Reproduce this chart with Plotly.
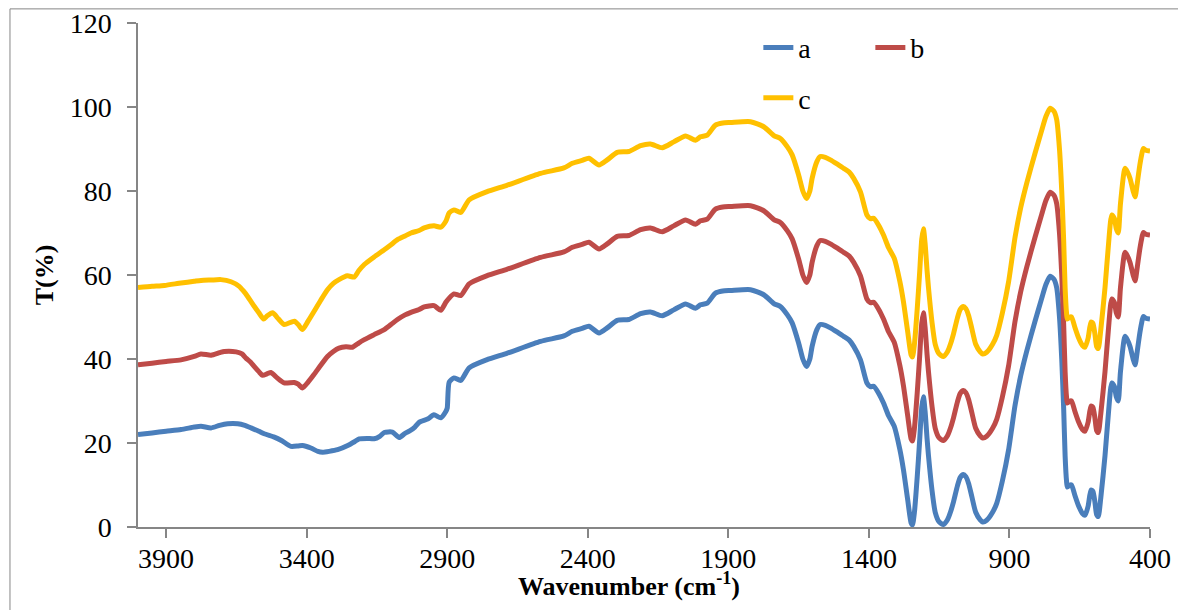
import plotly.graph_objects as go

# ---- data (wavenumber in cm^-1, transmittance in %) ----
wn_a_left = [4000, 3950, 3900, 3847, 3800, 3776, 3740, 3710, 3681, 3645,
             3620, 3598, 3570, 3551, 3515, 3490, 3456, 3430, 3415, 3385,
             3360, 3343, 3320, 3290, 3254, 3230, 3213, 3185, 3160, 3140,
             3124, 3095, 3071, 3050, 3035, 3015, 3000, 2970, 2947, 2923,
             2905, 2900, 2893, 2876, 2852]
t_a_left = [22.0, 22.4, 22.8, 23.2, 23.8, 24.0, 23.6, 24.2, 24.6, 24.6,
            24.2, 23.6, 22.8, 22.2, 21.4, 20.6, 19.2, 19.3, 19.4, 18.8,
            18.0, 17.8, 18.0, 18.4, 19.4, 20.3, 21.0, 21.1, 21.0, 21.6,
            22.5, 22.6, 21.3, 22.3, 22.8, 23.8, 24.9, 25.7, 26.7, 26.0,
            27.5, 28.3, 34.5, 35.5, 34.9]

wn_b_left = [4000, 3950, 3900, 3847, 3800, 3776, 3740, 3710, 3693, 3651,
             3630, 3616, 3600, 3586, 3570, 3557, 3540, 3527, 3505, 3480,
             3444, 3430, 3415, 3395, 3374, 3350, 3326, 3305, 3285, 3260,
             3237, 3215, 3195, 3160, 3124, 3100, 3077, 3050, 3029, 3000,
             2982, 2947, 2923, 2905, 2893, 2876, 2852]
t_b_left = [38.6, 39.0, 39.4, 39.8, 40.6, 41.2, 40.9, 41.5, 41.8, 41.7,
            41.2, 40.2, 39.3, 38.2, 37.0, 36.1, 36.5, 36.8, 35.5, 34.3,
            34.4, 34.0, 33.1, 34.5, 36.3, 38.5, 40.6, 41.8, 42.6, 42.9,
            42.8, 43.8, 44.6, 45.8, 47.0, 48.2, 49.4, 50.5, 51.1, 51.8,
            52.4, 52.7, 51.6, 53.5, 54.5, 55.5, 55.1]

wn_c_left = [4000, 3950, 3906, 3847, 3800, 3776, 3740, 3705, 3669, 3640,
             3625, 3610, 3586, 3570, 3553, 3540, 3521, 3500, 3480, 3444,
             3430, 3415, 3395, 3374, 3350, 3326, 3305, 3285, 3255, 3231,
             3215, 3195, 3160, 3124, 3100, 3077, 3050, 3029, 3000, 2982,
             2947, 2923, 2905, 2893, 2876, 2852]
t_c_left = [57.0, 57.3, 57.5, 58.1, 58.5, 58.7, 58.8, 58.9, 58.4, 57.3,
            56.2, 54.9, 52.5, 51.0, 49.5, 50.3, 51.0, 49.5, 48.2, 49.0,
            48.2, 47.0, 49.0, 51.3, 54.0, 56.5, 58.0, 58.9, 59.8, 59.5,
            61.0, 62.5, 64.3, 66.0, 67.2, 68.4, 69.3, 70.0, 70.6, 71.2,
            71.7, 71.4, 72.8, 74.8, 75.5, 74.9]

wn_right = [2822, 2760, 2686, 2568, 2485, 2455, 2420, 2396, 2360, 2331,
            2295, 2254, 2212, 2177, 2135, 2094, 2052, 2017, 1999, 1975,
            1946, 1920, 1892, 1821, 1774, 1738, 1715, 1690, 1673, 1650,
            1635, 1622, 1610, 1602, 1585, 1573, 1555, 1537, 1515, 1490,
            1470, 1454, 1430, 1407, 1395, 1383, 1365, 1348, 1330, 1310,
            1290, 1277, 1262, 1250, 1245, 1238, 1228, 1220, 1212, 1206,
            1200, 1193, 1188, 1175, 1164, 1150, 1135, 1120, 1110, 1099,
            1085, 1075, 1064, 1055, 1045, 1034, 1020, 1004, 995, 981,
            960, 945, 925, 903, 880, 860, 838, 809, 785, 770,
            755, 742, 732, 722, 714, 707, 702, 697, 694, 685,
            679, 667, 655, 640, 631, 620, 610, 603, 596, 590,
            584, 575, 560, 548, 536, 527, 520, 513, 505, 489,
            480, 471, 460, 453, 445, 438, 430, 424, 415, 400]

t_a_right = [37.9, 39.8, 41.4, 44.2, 45.5, 46.6, 47.3, 47.8, 46.2, 47.4,
             49.2, 49.4, 50.8, 51.2, 50.3, 51.7, 53.1, 52.1, 52.9, 53.3,
             55.7, 56.2, 56.3, 56.5, 55.3, 53.2, 52.5, 50.5, 48.6, 43.8,
             40.0, 38.2, 40.0, 43.0, 47.0, 48.2, 48.0, 47.4, 46.5, 45.4,
             44.5, 43.0, 39.8, 34.3, 33.4, 33.5, 31.8, 29.5, 26.5, 24.0,
             18.5, 13.6, 6.5, 1.0, 0.5, 3.5, 12.0, 20.0, 28.5, 31.0,
             27.5, 21.0, 17.0, 8.5, 3.5, 1.2, 0.6, 1.8, 3.5, 6.0,
             9.8, 11.8, 12.5, 12.0, 10.3, 7.3, 3.5, 1.7, 1.2, 1.6,
             3.5, 5.7, 11.0, 18.4, 29.0, 36.0, 42.0, 49.0, 54.5, 57.8,
             59.7, 59.0, 57.0, 50.0, 40.0, 28.0, 17.0, 11.0, 9.5, 10.0,
             10.0, 7.5, 5.2, 3.2, 2.8, 5.0, 8.8, 8.5, 6.0, 3.0,
             2.5, 7.0, 17.0, 27.0, 34.3, 33.5, 31.0, 30.0, 37.0, 45.4,
             44.5, 43.0, 40.0, 38.6, 42.0, 45.4, 48.5, 50.1, 49.7, 49.5]

t_b_right = [57.9, 59.8, 61.4, 64.2, 65.5, 66.6, 67.3, 67.8, 66.2, 67.4,
             69.2, 69.4, 70.8, 71.2, 70.3, 71.7, 73.1, 72.1, 72.9, 73.3,
             75.7, 76.2, 76.3, 76.5, 75.3, 73.2, 72.5, 70.5, 68.6, 63.8,
             60.0, 58.2, 60.0, 63.0, 67.0, 68.2, 68.0, 67.4, 66.5, 65.4,
             64.5, 63.0, 59.8, 54.3, 53.4, 53.5, 51.8, 49.5, 46.5, 44.0,
             38.5, 33.6, 26.5, 21.0, 20.5, 23.5, 32.0, 40.0, 48.5, 51.0,
             47.5, 41.0, 37.0, 28.5, 23.5, 21.2, 20.6, 21.8, 23.5, 26.0,
             29.8, 31.8, 32.5, 32.0, 30.3, 27.3, 23.5, 21.7, 21.2, 21.6,
             23.5, 25.7, 31.0, 38.4, 49.0, 56.0, 62.0, 69.0, 74.5, 77.8,
             79.7, 79.0, 77.0, 70.0, 60.0, 48.0, 37.0, 31.0, 29.5, 30.0,
             30.0, 27.5, 25.2, 23.2, 22.8, 25.0, 28.8, 28.5, 26.0, 23.0,
             22.5, 27.0, 37.0, 47.0, 54.3, 53.5, 51.0, 50.0, 57.0, 65.4,
             64.5, 63.0, 60.0, 58.6, 62.0, 65.4, 68.5, 70.1, 69.7, 69.5]

t_c_right = [77.9, 79.8, 81.4, 84.2, 85.5, 86.6, 87.3, 87.8, 86.2, 87.4,
             89.2, 89.4, 90.8, 91.2, 90.3, 91.7, 93.1, 92.1, 92.9, 93.3,
             95.7, 96.2, 96.3, 96.5, 95.3, 93.2, 92.5, 90.5, 88.6, 83.8,
             80.0, 78.2, 80.0, 83.0, 87.0, 88.2, 88.0, 87.4, 86.5, 85.4,
             84.5, 83.0, 79.8, 74.3, 73.4, 73.5, 71.8, 69.5, 66.5, 64.0,
             58.5, 53.6, 46.5, 41.0, 40.5, 43.5, 52.0, 60.0, 68.5, 71.0,
             67.5, 61.0, 57.0, 48.5, 43.5, 41.2, 40.6, 41.8, 43.5, 46.0,
             49.8, 51.8, 52.5, 52.0, 50.3, 47.3, 43.5, 41.7, 41.2, 41.6,
             43.5, 45.7, 51.0, 58.4, 69.0, 76.0, 82.0, 89.0, 94.5, 97.8,
             99.7, 99.0, 97.0, 90.0, 80.0, 68.0, 57.0, 51.0, 49.5, 50.0,
             50.0, 47.5, 45.2, 43.2, 42.8, 45.0, 48.8, 48.5, 46.0, 43.0,
             42.5, 47.0, 57.0, 67.0, 74.3, 73.5, 71.0, 70.0, 77.0, 85.4,
             84.5, 83.0, 80.0, 78.6, 82.0, 85.4, 88.5, 90.1, 89.7, 89.5]

x_ticks = [3900, 3400, 2900, 2400, 1900, 1400, 900, 400]
y_ticks = [0, 20, 40, 60, 80, 100, 120]
names = ["a", "b", "c"]
colors = ["#4A7EBB", "#BE4B48", "#FFC000"]

series = [
    (wn_a_left + wn_right, t_a_left + t_a_right),
    (wn_b_left + wn_right, t_b_left + t_b_right),
    (wn_c_left + wn_right, t_c_left + t_c_right),
]

FONT = "Liberation Serif, Times New Roman, serif"
AXIS_GRAY = "#868686"

fig = go.Figure()
for i, ((xs, ys), name, col) in enumerate(zip(series, names, colors)):
    fig.add_trace(go.Scatter(
        x=xs, y=ys, name=name, mode="lines",
        line=dict(color=col, width=5, shape="spline", smoothing=0.6),
        legend="legend" if i < 2 else "legend2",
    ))

# the page body has an 8px margin, so the figure is sized/positioned to compensate
fig.update_layout(
    width=1178, height=602,
    margin=dict(l=130, r=36, t=15, b=83, autoexpand=False),
    paper_bgcolor="white", plot_bgcolor="white",
    font=dict(family=FONT, size=28, color="black"),
    showlegend=True,
    legend=dict(orientation="h", x=0.613, xanchor="left", y=0.951, yanchor="middle",
                entrywidth=67, entrywidthmode="pixels",
                font=dict(family=FONT, size=28), bgcolor="rgba(0,0,0,0)"),
    legend2=dict(orientation="h", x=0.613, xanchor="left", y=0.851, yanchor="middle",
                 font=dict(family=FONT, size=28), bgcolor="rgba(0,0,0,0)"),
    xaxis=dict(
        range=[4000, 400], tickvals=x_ticks, ticktext=[str(v) for v in x_ticks],
        showline=True, linecolor=AXIS_GRAY, linewidth=1.5,
        ticks="outside", ticklen=9, tickcolor=AXIS_GRAY, tickwidth=1.5,
        showgrid=False, zeroline=False, ticklabelstandoff=-3, automargin=False,
        ticklabeloverflow="allow",
        tickfont=dict(family=FONT, size=28),
    ),
    yaxis=dict(
        range=[0, 120], tickvals=y_ticks,
        showline=True, linecolor=AXIS_GRAY, linewidth=1.5,
        ticks="outside", ticklen=9, tickcolor=AXIS_GRAY, tickwidth=1.5,
        showgrid=False, zeroline=False, ticklabelstandoff=10, automargin=False,
        ticklabeloverflow="allow",
        tickfont=dict(family=FONT, size=28),
        title=dict(text="<b>T(%)</b>", font=dict(family=FONT, size=26), standoff=9),
    ),
    annotations=[dict(text="<b>Wavenumber (cm<sup>-1</sup>)</b>", xref="paper", yref="paper",
                      x=0.4852, y=-0.1145, xanchor="center", yanchor="middle",
                      showarrow=False, font=dict(family=FONT, size=26, color="black"))],
    shapes=[dict(type="rect", xref="paper", yref="paper",
                 x0=-0.1265, x1=1.04, y0=-0.18, y1=1.028,
                 line=dict(color=AXIS_GRAY, width=1), fillcolor="rgba(0,0,0,0)",
                 layer="below")],
)

fig.write_html("out.html")
